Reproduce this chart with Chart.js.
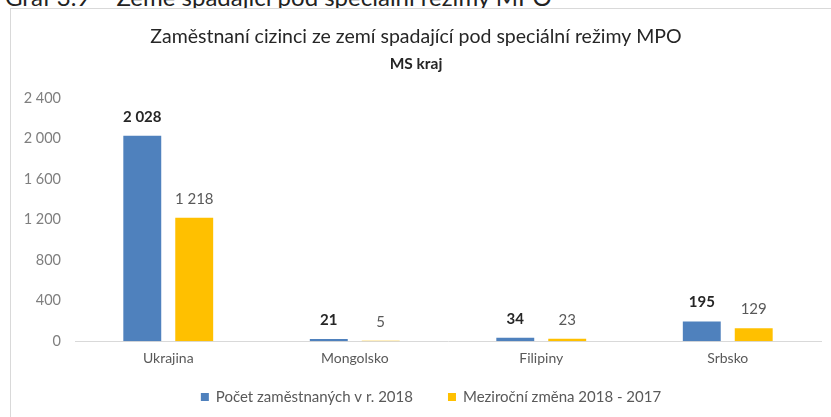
<!DOCTYPE html>
<html>
<head>
<meta charset="utf-8">
<script src="https://cdn.jsdelivr.net/npm/chart.js@4.4.1/dist/chart.umd.min.js"></script>
<style>
  html, body { margin: 0; padding: 0; background: #fff; overflow: hidden; }
  body { width: 831px; height: 417px; position: relative; }
  #caption { position: absolute; left: 5px; top: -17px; font-family: Lato, "Open Sans", sans-serif; font-size: 24px; color: #222; white-space: nowrap; line-height: 1.2; }
  #frame { position: absolute; left: 10px; top: 8px; width: 821px; height: 409px; border-left: 1px solid #d9d9d9; border-top: 1px solid #d9d9d9; box-sizing: border-box; background: #fff; }
  canvas { position: absolute; left: 0; top: 0; }
</style>
</head>
<body>
<div id="caption">Graf 3.9 – Země spadající pod speciální režimy MPO</div>
<div id="frame"><canvas id="c" width="820" height="408"></canvas></div>
<script>
const categories = ["Ukrajina", "Mongolsko", "Filipiny", "Srbsko"];
const employed2018 = [2028, 21, 34, 195];
const change2018_2017 = [1218, 5, 23, 129];
const seriesNames = ["Počet zaměstnaných v r. 2018", "Meziroční změna 2018 - 2017"];
const yTicks = [0, 400, 800, 1200, 1600, 2000, 2400];

const FONT = "Lato, 'Open Sans', sans-serif";
const fmt = v => String(v).replace(/\B(?=(\d{3})+(?!\d))/g, " ");

const valueLabels = {
  id: 'valueLabels',
  afterDatasetsDraw(chart) {
    const ctx = chart.ctx;
    chart.data.datasets.forEach((ds, di) => {
      const meta = chart.getDatasetMeta(di);
      meta.data.forEach((bar, i) => {
        ctx.save();
        ctx.font = (di === 0 ? "bold " : "") + "15px " + FONT;
        ctx.fillStyle = di === 0 ? "#262626" : "#595959";
        ctx.textAlign = "center";
        ctx.textBaseline = "alphabetic";
        ctx.fillText(fmt(ds.data[i]), bar.x, bar.y - 14);
        ctx.restore();
      });
    });
  }
};

// Bottom legend drawn from the datasets (square marker + label, wide item spacing).
const bottomLegend = {
  id: 'bottomLegend',
  afterDraw(chart) {
    const ctx = chart.ctx;
    const box = 8, gapText = 7, gapItem = 35;
    ctx.save();
    ctx.font = "15px " + FONT;
    ctx.textBaseline = "middle";
    const items = chart.data.datasets.map(ds => ({ text: ds.label, color: ds.backgroundColor, w: ctx.measureText(ds.label).width }));
    const total = items.reduce((s, it) => s + box + gapText + it.w, 0) + gapItem * (items.length - 1);
    let x = chart.width / 2 + 10 - total / 2;
    const y = chart.height - 20;
    items.forEach(it => {
      ctx.fillStyle = it.color;
      ctx.fillRect(x, y - box / 2, box, box);
      x += box + gapText;
      ctx.fillStyle = '#595959';
      ctx.fillText(it.text, x, y);
      x += it.w + gapItem;
    });
    ctx.restore();
  }
};

new Chart(document.getElementById('c'), {
  type: 'bar',
  data: {
    labels: categories,
    datasets: [
      { label: seriesNames[0], data: employed2018, backgroundColor: '#4f81bd', borderWidth: 0 },
      { label: seriesNames[1], data: change2018_2017, backgroundColor: '#ffc000', borderWidth: 0 }
    ]
  },
  options: {
    responsive: false,
    animation: false,
    devicePixelRatio: 1,
    categoryPercentage: 0.557,
    barPercentage: 0.73,
    layout: { padding: { left: 0, right: 10, top: 0, bottom: 41 } },
    plugins: {
      title: { display: true, text: "Zaměstnaní cizinci ze zemí spadající pod speciální režimy MPO",
        color: '#262626', font: { family: FONT, size: 19.5, weight: 'normal' }, padding: { top: 16, bottom: 6 } },
      subtitle: { display: true, text: "MS kraj",
        color: '#262626', font: { family: FONT, size: 15.5, weight: 'bold' }, padding: { top: 0, bottom: 25 } },
      legend: { display: false },
      tooltip: { enabled: false }
    },
    scales: {
      x: {
        grid: { display: false, drawTicks: false },
        border: { display: true, color: '#d9d9d9', width: 1 },
        ticks: { color: '#595959', font: { family: FONT, size: 14 }, padding: 9 }
      },
      y: {
        min: 0, max: 2400,
        afterBuildTicks(scale) { scale.ticks = yTicks.map(v => ({ value: v })); },
        afterFit(scale) { scale.width = 64; },
        grid: { display: false, drawTicks: false },
        border: { display: false },
        ticks: { color: '#7f7f7f', font: { family: FONT, size: 14.5 }, padding: 14, callback: v => fmt(v) }
      }
    }
  },
  plugins: [valueLabels, bottomLegend]
});
</script>
</body>
</html>
